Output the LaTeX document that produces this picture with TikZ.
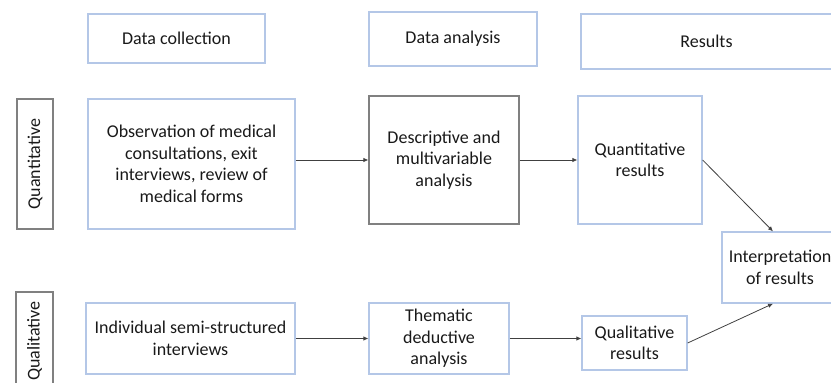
\documentclass[tikz,border=0pt]{standalone}
\usepackage{fontspec}
\setmainfont{Carlito}
\usetikzlibrary{arrows.meta}
\definecolor{boxblue}{HTML}{B4C7E7}
\definecolor{boxgray}{HTML}{808080}
\begin{document}
\begin{tikzpicture}[
	x=1pt, y=-1pt,
	every node/.style = {font=\fontsize{18}{21.5}\selectfont, text=black!90},
	box/.style = {draw=boxblue, line width=1.3pt, rectangle, align=center, inner sep=0pt},
	dark box/.style = {box, draw=boxgray},
	edge/.style = {-{Latex[length=5pt,width=4.5pt]}, draw=black!75, line width=0.8pt},
]
	\useasboundingbox (0,0) rectangle (831,383);

	%% The header row
	\foreach \name/\x/\y/\w/\h/\txt in {%
		coll/176.5/38.5/177/49/Data collection,
		anal/453/39/168/54/Data analysis,
		res/706.5/41.5/251/55/Results%
	}{%
		\node [box, minimum width=\w pt, minimum height=\h pt] at (\x,\y) (\name) {\txt};
	}

	%% Row labels (turned)
	\node [dark box, rotate=90, minimum width=130pt, minimum height=36pt] at (35,164) (quan) {Quantitative};
	\node [dark box, rotate=90, minimum width=98pt, minimum height=37pt] at (34.5,341) (qual) {Qualitative};

	%% The quantitative row
	\node [box, minimum width=207pt, minimum height=130pt] at (191.5,164) (obs)
		{Observation of medical\\consultations, exit\\interviews, review of\\medical forms};
	\node [dark box, minimum width=150pt, minimum height=128pt] at (444,160) (desc)
		{Descriptive and\\multivariable\\analysis};
	\node [box, minimum width=124pt, minimum height=128pt] at (640,160) (quanres)
		{Quantitative\\results};

	%% The qualitative row
	\node [box, minimum width=209pt, minimum height=71pt] at (190.5,338.5) (indiv)
		{Individual semi-structured\\interviews};
	\node [box, minimum width=140pt, minimum height=71pt] at (439,338.5) (them)
		{Thematic\\deductive\\analysis};
	\node [box, minimum width=105pt, minimum height=54pt] at (634.5,343) (qualres)
		{Qualitative\\results};

	%% Both rows meet here
	\node [box, minimum width=116pt, minimum height=71pt] at (780,267.5) (interp)
		{Interpretation\\of results};

	%% Draw the connections
	\draw [edge] (obs.east |- desc) -- (desc.west);
	\draw [edge] (desc.east) -- (quanres.west);
	\draw [edge] (indiv.east) -- (them.west);
	\draw [edge] (them.east) -- (them.east -| qualres.west);
	\draw [edge] (quanres.east) -- ([xshift=-7pt]interp.north);
	\draw [edge] (qualres.east) -- ([xshift=-7pt]interp.south);

\end{tikzpicture}
\end{document}
